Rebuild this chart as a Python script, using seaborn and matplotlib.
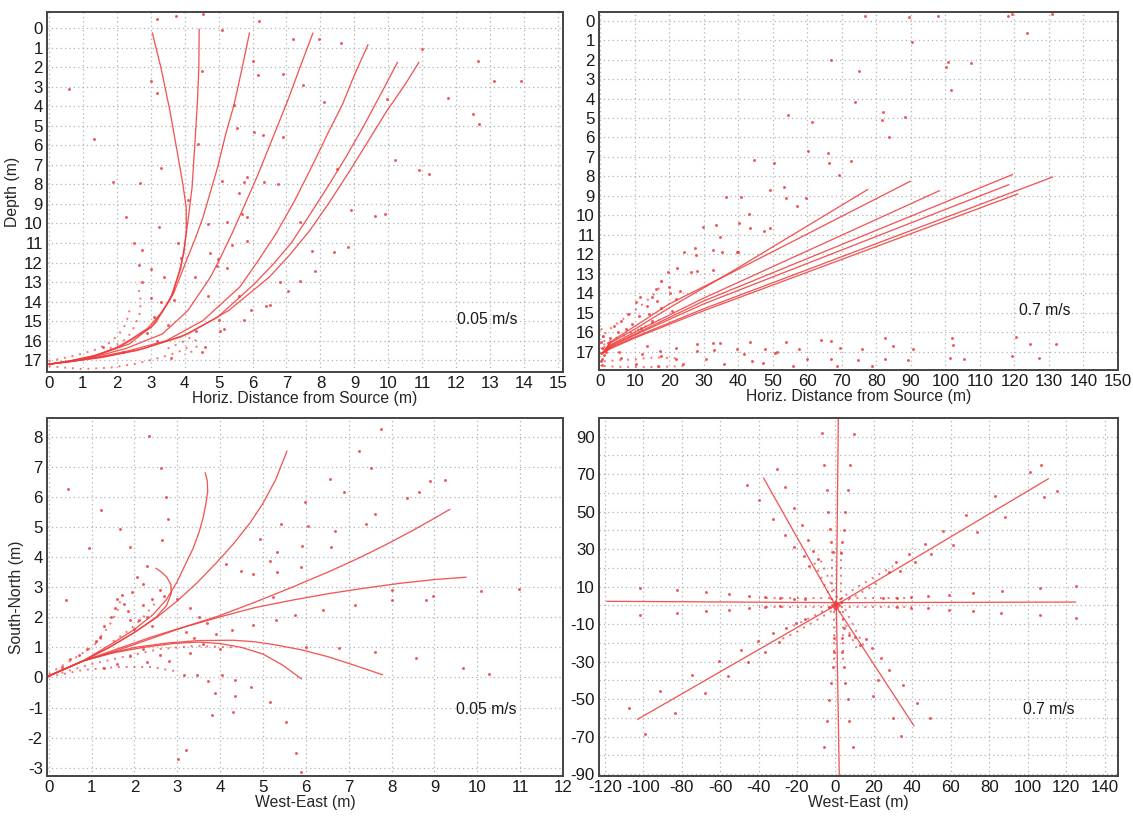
import pandas as pd
import matplotlib.pyplot as plt
import seaborn as sns

# --- panel A: 0.05 m/s, side view (x = horiz distance, y = depth) ---
A_CURVE_X = [
    [3.05, 3.3, 3.57, 3.8, 3.95, 4.05, 4.05, 3.98, 3.85, 3.65, 3.35, 2.92, 2.4, 1.95, 1.2, 0.6, 0.0],
    [4.43, 4.42, 4.38, 4.3, 4.22, 4.12, 4.02, 3.89, 3.57, 3.03, 2.16, 1.3, 0.6, 0.0],
    [5.91, 5.7, 5.46, 5.2, 4.97, 4.75, 4.54, 4.32, 4.1, 3.67, 3.14, 2.38, 1.5, 0.7, 0.0],
    [7.78, 7.4, 7.03, 6.6, 6.16, 5.77, 5.4, 5.07, 4.76, 4.1, 3.35, 2.27, 1.4, 0.7, 0.0],
    [9.4, 9.0, 8.65, 8.2, 7.78, 7.25, 6.7, 6.15, 5.62, 4.54, 3.46, 2.27, 1.4, 0.7, 0.0],
    [10.27, 9.8, 9.3, 8.75, 8.2, 7.65, 7.14, 6.6, 6.05, 4.97, 3.9, 2.6, 1.5, 0.7, 0.0],
    [10.9, 10.45, 9.95, 9.4, 8.86, 8.27, 7.68, 7.1, 6.49, 5.3, 4.1, 2.8, 1.6, 0.7, 0.0],
]
A_CURVE_Y = [
    [0.25, 2.0, 4.25, 6.5, 8.0, 9.2, 10.4, 11.5, 12.4, 13.6, 14.5, 15.35, 15.95, 16.4, 16.85, 17.05, 17.2],
    [0.05, 2.0, 3.74, 6.0, 8.16, 9.6, 10.9, 12.3, 13.9, 15.3, 16.25, 16.8, 17.05, 17.2],
    [0.25, 2.0, 3.9, 5.5, 7.14, 8.45, 9.7, 10.75, 11.7, 13.6, 15.1, 16.16, 16.7, 17.0, 17.2],
    [0.25, 2.0, 3.74, 5.6, 7.5, 9.05, 10.5, 11.7, 12.75, 14.45, 15.65, 16.4, 16.8, 17.05, 17.2],
    [0.85, 2.4, 3.9, 5.45, 6.97, 8.8, 10.5, 11.95, 13.26, 14.97, 16.0, 16.55, 16.85, 17.05, 17.2],
    [1.75, 3.3, 4.93, 6.6, 8.16, 9.65, 11.0, 12.1, 13.1, 14.8, 15.8, 16.5, 16.85, 17.05, 17.2],
    [1.75, 3.0, 4.25, 5.8, 7.31, 8.9, 10.37, 11.6, 12.75, 14.45, 15.65, 16.4, 16.85, 17.05, 17.2],
]
A_TRAIL_X = [
    [0.0, 0.5, 1.0, 1.8, 2.5, 3.1, 3.6, 4.0, 4.2],
    [0.0, 0.8, 1.4, 1.8, 2.05, 2.25, 2.35, 2.4],
    [1.8, 2.3, 2.55, 2.7, 2.7, 2.6],
    [3.5, 3.9, 4.2, 4.4, 4.3, 4.0],
]
A_TRAIL_Y = [
    [17.3, 17.38, 17.45, 17.38, 17.2, 16.95, 16.7, 16.45, 16.15],
    [17.05, 16.75, 16.45, 16.1, 15.7, 15.2, 14.7, 14.2],
    [16.4, 15.9, 15.2, 14.5, 13.7, 13.1],
    [16.4, 16.1, 15.8, 16.1, 16.5, 16.7],
]
A_PTS_X = [3.2, 3.75, 4.55, 6.2, 5.1, 7.2, 7.95, 8.6, 11.0, 12.65, 6.0, 4.5, 6.15, 6.9,
           3.0, 7.5, 0.6, 13.1, 13.9, 3.2, 11.75, 9.97, 8.1, 5.45, 12.5, 12.67, 5.55, 6.05,
           6.3, 6.9, 1.33, 4.4, 3.3, 10.2, 8.5, 10.9, 11.2, 1.9, 2.7, 5.1, 5.85, 5.75, 6.35,
           6.75, 5.6, 4.1, 8.9, 5.7, 5.85, 2.27, 9.6, 9.9, 7.4, 5.25, 4.7, 3.25, 2.5, 3.8,
           5.85, 5.4, 2.75, 4.75, 7.75, 8.4, 8.8, 4.97, 3.9, 2.65, 4.95, 7.85, 3.0, 5.25,
           3.4, 4.3, 6.8, 7.4, 7.05, 6.5, 6.4, 5.6, 4.7, 5.95, 5.75, 5.0, 5.05, 5.15,
           3.2, 2.9, 3.5, 3.1, 3.3, 3.0, 2.75, 3.7, 4.35, 4.6, 4.5, 3.6, 2.2, 1.6]
A_PTS_Y = [-0.48, -0.6, -0.7, -0.35, 0.1, 0.55, 0.55, 0.75, 1.05, 1.7, 1.7, 2.2, 2.4, 2.35,
           2.7, 2.9, 3.1, 2.7, 2.7, 3.35, 3.6, 3.65, 3.8, 3.95, 4.4, 4.9, 5.1, 5.3,
           5.45, 5.6, 5.7, 5.95, 7.15, 6.75, 7.2, 7.25, 7.45, 7.9, 7.95, 7.85, 7.6, 7.9, 7.9,
           8.0, 8.45, 8.8, 9.3, 9.5, 9.65, 9.65, 9.6, 9.5, 9.9, 9.9, 10.05, 10.2, 11.0, 11.0,
           10.9, 11.1, 11.35, 11.5, 11.4, 11.45, 11.2, 11.8, 11.75, 12.1, 12.2, 12.45, 12.35, 12.3,
           12.75, 12.75, 13.0, 12.95, 13.45, 14.15, 14.2, 13.7, 13.7, 14.45, 14.95, 14.95, 15.5, 15.4,
           16.0, 15.6, 15.2, 14.8, 14.0, 13.8, 13.0, 13.9, 15.5, 16.3, 16.6, 16.9, 16.6, 16.3]

# --- panel B: 0.7 m/s, side view ---
B_CURVE_X = [
    [0.5, 3, 10, 20, 38, 77.5],
    [0.5, 3, 10, 20, 38, 89.8],
    [0.5, 3, 10, 30, 98.3],
    [0.5, 3, 10, 30, 119.5],
    [0.5, 3, 10, 30, 118.4],
    [0.5, 3, 10, 30, 131.1],
    [0.5, 3, 10, 30, 121.0],
]
B_CURVE_Y = [
    [17.1, 16.55, 15.85, 14.75, 12.9, 8.67],
    [17.1, 16.5, 15.7, 14.55, 12.95, 8.25],
    [17.1, 16.65, 16.0, 14.25, 8.73],
    [17.1, 16.7, 16.1, 14.4, 7.9],
    [17.1, 16.75, 16.15, 14.55, 8.42],
    [17.1, 16.8, 16.25, 14.8, 8.03],
    [17.1, 16.85, 16.3, 14.9, 8.9],
]
B_TRAIL_X = [
    [0.8, 1.5, 5.3, 9.2, 13.1, 16.5, 18.4],
    [1.0, 3.4, 8.3, 12.1, 17.0],
    [1.0, 5.0, 10.0, 16.0, 22.0],
    [1.0, 8.0, 16.0, 24.0],
    [0.3, 0.8, 1.2],
]
B_TRAIL_Y = [
    [16.9, 16.0, 15.5, 15.0, 14.45, 13.9, 13.2],
    [16.8, 16.35, 16.1, 15.78, 15.37],
    [17.5, 17.45, 17.4, 17.3, 17.35],
    [17.75, 17.8, 17.8, 17.75],
    [15.8, 16.3, 16.7],
]
B_PTS_X = [76.6, 89.4, 97.8, 118.2, 119.3, 126.1, 130.9, 123.5, 90.2, 66.7, 74.8, 100.7,
           100.2, 107.4, 101.6, 73.8, 81.9, 81.5, 88.3, 54.5, 61.3, 83.6, 60.2, 66.1, 66.3,
           72.5, 44.4, 50.2, 69.2, 49.2, 53.3, 53.9, 57.0, 36.4, 40.8, 59.5, 43.0, 40.3,
           43.5, 47.4, 49.1, 29.7, 33.6, 34.6, 35.1, 27.4, 27.7, 24.1, 32.7, 39.6, 40.0,
           22.2, 19.7, 26.3, 28.0, 32.7,
           32.5, 34.8, 27.9, 43.4, 53.9, 64.0, 66.9, 82.5, 101.8, 120.3, 124.5, 132.0,
           102.3, 84.7, 75.9, 69.5, 90.7, 57.7, 51.2, 47.6, 39.6, 33.0, 27.9, 21.9, 17.4,
           13.4, 41.7, 50.7, 59.8, 66.9, 74.6, 82.5, 89.1, 101.3, 105.5, 119.3, 127.2,
           43.8, 47.1, 55.9, 68.5, 78.8, 30.7, 21.9, 24.0, 16.6, 10.3, 35.7, 17.7, 12.2,
           6.0, 5.5,
           17.7, 19.8, 16.1, 14.9, 11.5, 10.3, 13.4, 16.4, 17.7, 14.0, 11.3, 7.9, 6.0, 3.9,
           9.2, 7.3, 5.0, 2.9, 2.1, 11.9, 15.0, 20.3, 23.0, 21.9, 20.8,
           0.3, 0.5, 0.3, 0.6, 0.4, 1.0, 1.5, 0.8, 0.2]
B_PTS_Y = [-0.26, -0.17, -0.26, -0.22, -0.34, -0.48, -0.34, 0.65, 1.11, 2.02, 2.6, 2.14,
           2.4, 2.18, 3.56, 4.2, 4.71, 5.09, 4.97, 4.85, 5.19, 5.95, 6.68, 6.82, 7.32,
           7.21, 7.16, 7.32, 7.92, 8.7, 8.53, 9.13, 9.51, 9.05, 9.08, 9.12, 9.94, 10.4,
           10.64, 10.81, 10.63, 10.61, 10.51, 11.1, 11.86, 11.7, 12.05, 11.86, 11.77, 11.86, 11.88,
           12.73, 12.9, 12.89, 12.85, 12.8,
           16.54, 16.54, 16.59, 16.49, 16.49, 16.42, 16.45, 16.32, 16.28, 16.25, 16.62, 16.59,
           16.68, 16.71, 16.88, 16.8, 16.85, 16.85, 17.02, 16.85, 16.85, 16.92, 16.97, 16.8, 16.97,
           16.71, 17.14, 17.1, 17.4, 17.4, 17.43, 17.36, 17.43, 17.31, 17.4, 17.22, 17.34,
           17.48, 17.57, 17.74, 17.74, 17.74, 17.4, 17.4, 17.65, 17.74, 17.65, 17.65, 17.22, 17.14,
           17.31, 17.05,
           13.37, 13.66, 13.8, 14.22, 14.19, 14.48, 14.65, 14.4, 14.74, 15.08, 15.17, 15.08, 15.42, 15.68,
           15.6, 15.85, 16.02, 16.28, 16.54, 15.77, 15.42, 13.97, 13.88, 14.31, 14.91,
           16.5, 16.8, 17.1, 17.4, 17.7, 17.2, 17.0, 16.2, 17.5]

# --- panel C: 0.05 m/s, plan view ---
C_CURVE_X = [
    [0.0, 0.8, 1.5, 2.0, 2.44, 2.75, 3.0, 3.2, 3.37, 3.5, 3.6, 3.67, 3.71, 3.7, 3.65],
    [0.0, 0.8, 1.42, 2.0, 2.52, 3.0, 3.46, 3.9, 4.31, 4.7, 5.0, 5.3, 5.56],
    [0.0, 0.8, 1.4, 2.0, 2.5, 2.75, 2.86, 2.85, 2.75, 2.62, 2.5],
    [0.0, 0.8, 1.6, 2.4, 3.2, 3.97, 4.8, 5.67, 6.5, 7.0, 7.5, 8.0, 8.5, 9.0, 9.36],
    [0.0, 0.8, 1.6, 2.4, 3.12, 4.0, 4.82, 5.7, 6.52, 7.4, 8.22, 9.0, 9.74],
    [0.0, 0.8, 1.42, 2.0, 2.78, 3.5, 4.3, 4.8, 5.24, 5.9, 6.52, 7.15, 7.79],
    [0.0, 0.8, 1.5, 2.2, 2.9, 3.5, 4.0, 4.5, 5.0, 5.45, 5.9],
]
C_CURVE_Y = [
    [0.05, 0.55, 1.15, 1.6, 2.1, 2.6, 3.2, 3.8, 4.3, 4.8, 5.3, 5.8, 6.2, 6.55, 6.82],
    [0.05, 0.55, 1.0, 1.5, 2.0, 2.55, 3.15, 3.8, 4.45, 5.15, 5.8, 6.6, 7.54],
    [0.05, 0.55, 1.0, 1.5, 2.0, 2.4, 2.8, 3.1, 3.35, 3.52, 3.64],
    [0.05, 0.55, 0.95, 1.35, 1.7, 2.05, 2.5, 3.0, 3.5, 3.82, 4.16, 4.52, 4.9, 5.3, 5.6],
    [0.05, 0.55, 0.9, 1.3, 1.66, 2.02, 2.33, 2.58, 2.79, 2.98, 3.14, 3.26, 3.34],
    [0.05, 0.55, 0.8, 1.0, 1.15, 1.23, 1.24, 1.19, 1.1, 0.92, 0.69, 0.4, 0.09],
    [0.05, 0.55, 0.82, 1.0, 1.13, 1.18, 1.13, 1.0, 0.78, 0.42, -0.05],
]
C_TRAIL_X = [
    [0.0, 0.5, 1.0, 1.3],
    [0.0, 0.8, 1.6, 2.4, 3.0],
    [0.3, 1.0, 1.8, 2.6, 3.4, 4.4],
    [1.1, 1.4, 1.6, 1.7],
    [1.5, 1.9, 2.2, 2.5],
]
C_TRAIL_Y = [
    [0.12, 0.55, 1.0, 1.4],
    [0.02, 0.25, 0.35, 0.35, 0.2],
    [0.15, 0.45, 0.7, 0.95, 1.05, 1.0],
    [1.15, 1.7, 2.2, 2.7],
    [1.2, 1.6, 2.0, 2.5],
]
C_PTS_X = [0.44, 0.4, 1.23, 0.93, 1.67, 1.89, 2.65, 2.74, 2.63, 2.35, 2.78, 7.75, 7.24, 7.53,
           6.56, 6.9, 8.9, 9.24, 8.64, 8.37, 5.99, 7.62, 7.41, 5.41, 6.05, 6.69, 4.94, 5.9,
           6.58, 5.33, 4.14, 5.16, 4.48, 4.77, 5.88, 5.33, 10.08, 10.98, 8.81, 8.96, 8.0, 8.0,
           7.15, 6.39, 5.75, 5.23, 5.3, 4.77, 4.27, 6.01, 6.77, 7.62, 8.56, 9.66, 10.27,
           3.71, 3.88, 4.35, 4.73, 5.16, 3.8, 4.29, 5.54, 3.2, 3.02, 5.77, 5.88, 4.05, 4.35,
           3.46, 3.16,
           1.45, 1.55, 1.6, 1.7, 1.75, 1.85, 1.9, 2.0, 2.1, 2.2, 2.3, 2.4, 1.95, 2.05, 2.3,
           2.2, 2.6, 2.7, 2.4, 1.3, 1.2, 1.1, 0.9, 0.7, 0.5, 0.3,
           3.0, 3.3, 3.5, 3.7, 3.2, 3.4, 3.9, 3.6, 4.0, 3.3, 2.8, 2.3, 2.6, 2.2, 1.9, 1.6, 1.3]
C_PTS_Y = [6.27, 2.59, 5.57, 4.3, 4.94, 4.34, 4.58, 6.02, 6.98, 8.03, 5.27, 8.29, 7.54, 6.98,
           6.6, 6.16, 6.54, 6.56, 6.16, 5.99, 5.83, 5.46, 5.11, 5.11, 5.05, 4.89, 4.61, 4.37,
           4.34, 4.17, 3.78, 3.89, 3.53, 3.46, 3.67, 3.51, 2.88, 2.93, 2.57, 2.71, 2.57, 2.9,
           2.4, 2.24, 2.07, 2.68, 1.93, 1.74, 1.58, 1.02, 0.97, 0.84, 0.64, 0.31, 0.12,
           -0.13, -0.52, -0.61, -0.3, -0.8, -1.24, -1.16, -1.49, -2.4, -2.73, -2.51, -3.15, 0.09, -0.08,
           0.09, 0.09,
           2.0, 2.3, 2.6, 2.75, 2.45, 2.2, 1.9, 1.6, 1.9, 2.4, 2.0, 1.7, 2.85, 3.35, 3.7,
           3.1, 2.9, 2.7, 2.6, 1.7, 1.35, 1.2, 0.95, 0.75, 0.6, 0.35,
           2.6, 2.3, 2.0, 1.8, 1.5, 1.3, 1.45, 1.1, 0.95, 0.8, 0.55, 0.5, 0.75, 0.95, 0.7, 0.45, 0.3]

# --- panel D: 0.7 m/s, plan view ---
D_CURVE_X = [[0.5, 1.5], [0.5, 2.0], [0.0, 125.0], [0.0, -119.0],
             [0.0, 110.8], [0.0, -103.0], [0.0, -37.4], [0.0, 40.9]]
D_CURVE_Y = [[0.0, 100.0], [0.0, -91.0], [1.5, 1.8], [1.5, 2.2],
             [0.0, 67.6], [0.0, -60.8], [0.0, 68.0], [0.0, -64.3]]
D_TRAIL_X = [
    [2, 10, 20, 30], [3, 12, 22], [-2, -10, -20, -30], [-3, -12, -22],
    [-2, -2], [3, 3], [-1, -1], [4, 4],
    [-2, -12], [1, -9], [2, 12], [5, 15],
    [3, 40], [3, 40], [-3, -40], [-3, -40],
]
D_TRAIL_Y = [
    [3, 9, 15, 21], [1, 6, 12], [-3, -8, -14, -19], [-1, -6, -11],
    [3, 30], [3, 30], [-3, -30], [-3, -30],
    [3, 25], [4, 27], [-3, -25], [-2, -22],
    [4, 4], [-1, -1], [4, 4], [-1, -1],
]
D_PTS_X = [-7.2, 9.4, -5.7, 7.5, -4.3, 6.4, -30.6, -26.4, -45.8, -39.8, -21.3, -32.3, -17.5,
           -26.0, -14.3, -21.3, -11.5, -16.6, -9.1, -13.8, -3.8, 5.1, -2.8, 4.5, -2.1, 3.6,
           -1.5, 2.8, 107, 101, 108.5, 115.5, 83, 88, 73.4, 67.7, 56.0, 61, 46.6, 49.8, 41.5,
           38.1, 31.5, 33.8, 27.7,
           106.6, 125.3, 86.6, 71.7, 58.9, 47.9, 39.1, 32.1, 24.9, 106.6, 125.3, 86.2, 71.7,
           58.9, 47.9, 39.1, 32.1,
           -101.5, -82.6, -67.5, -55.3, -44.9, -36.4, -28.9, -21.3, -15.7, -101.5, -82.6,
           -67.5, -55.3, -44.9, -36.4, -28.9,
           -107.2, -99.2, -91.1, -83.6, -74.7, -68.1, -60.4, -55.8, -49.1, -45.3, -40.2, -36.4,
           -32.3, -29.2, -25.5, -20.4, -15.7,
           4.5, 7, 10.2, 12.6, 16, 18.9, 23.6, 27.7, 22.1, 19.8, 30, 34.9, 42.5, 49.4, 34.3,
           8.9, -5.7, -4.3, 7, -3.4, 6.6, -2.1, 5.1, -1.5, 4.2, -0.9, 3.6, -0.6, 3.2,
           0, 1, -1, 1, -1, 2, -2, 0, 0, 3, -3]
D_PTS_Y = [91.8, 91.4, 75.0, 74.7, 61.4, 61.4, 72.9, 63.2, 64.4, 56.0, 52.1, 45.9, 42.9,
           37.6, 35.0, 31.3, 29.2, 26.2, 24.7, 21.2, 49.8, 49.8, 40.6, 40.3, 33.6, 33.6,
           28.3, 27.9, 75, 71, 57.9, 60.9, 58.3, 47.3, 39.4, 48.0, 39.7, 32.5, 32.7, 27.4, 23.0,
           27.4, 23.0, 18.6, 17.7,
           9.2, 10.6, 7.6, 6.8, 5.7, 5.0, 4.5, 4.1, 3.9, -5.2, -6.6, -4.3, -3.1,
           -2.6, -1.4, -1.2, -0.8,
           9.2, 8.0, 7.1, 5.9, 5.0, 4.5, 3.9, 3.6, 3.2, -5.2, -3.8,
           -2.9, -2.2, -1.4, -0.8, -0.3,
           -54.6, -68.7, -45.8, -57.3, -37.0, -46.7, -29.4, -37.9, -23.8, -30.3, -18.8, -24.6,
           -14.9, -19.7, -12.3, -9.6, -7.4,
           -12.3, -15.8, -16.7, -21.1, -17.9, -22.5, -27.8, -34.3, -39.6, -48.4, -59.9, -42.3,
           -52.0, -59.9, -69.6, -75.4, -75.4, -61.7, -61.7, -50.2, -49.9, -41.4, -41.4, -32.6,
           -32.6, -24.6, -24.6, -17.6, -17.6,
           0, 1, 1, -1, -1, 0, 0, 2, -2, 2, -1]

RED = '#ee3b3b'
GRID = '#b2b2b2'
FS = 11.3


def to_frame(xs_list, ys_list):
    rows = []
    for i, (xs, ys) in enumerate(zip(xs_list, ys_list)):
        for x, y in zip(xs, ys):
            rows.append((i, x, y))
    return pd.DataFrame(rows, columns=['curve', 'x', 'y'])


def draw_panel(ax, cx, cy, tx, ty, px, py):
    sns.lineplot(data=to_frame(cx, cy), x='x', y='y', units='curve', estimator=None,
                 sort=False, ax=ax, color=RED, lw=0.95, alpha=0.85, legend=False)
    sns.lineplot(data=to_frame(tx, ty), x='x', y='y', units='curve', estimator=None,
                 sort=False, ax=ax, color=RED, lw=1.4, alpha=0.7, legend=False,
                 linestyle=(0, (1, 3)))
    sns.scatterplot(x=px, y=py, ax=ax, color=RED, s=4.5, linewidth=0, alpha=0.85,
                    legend=False)


def style_axes(ax):
    ax.grid(True, which='both', color=GRID, linestyle=(0, (1, 2.5)), lw=0.9)
    ax.set_axisbelow(True)
    for sp in ax.spines.values():
        sp.set_color('#444444')
        sp.set_linewidth(1.4)
    ax.tick_params(which='both', length=0, pad=3, labelsize=12.2, colors='#1a1a1a')
    ax.set_xlabel('')
    ax.set_ylabel('')


sns.set_theme(style='white')
plt.rcParams['font.family'] = ['Liberation Sans', 'DejaVu Sans']
plt.rcParams['axes.unicode_minus'] = False

fig = plt.figure(figsize=(11.33, 8.18), dpi=100)
W, H = 1133, 818
ax1 = fig.add_axes([47 / W, 1 - 372 / H, 516 / W, 360 / H])
ax2 = fig.add_axes([599 / W, 1 - 370 / H, 519 / W, 358 / H])
ax3 = fig.add_axes([47 / W, 1 - 776 / H, 516 / W, 358 / H])
ax4 = fig.add_axes([599 / W, 1 - 776 / H, 519 / W, 358 / H])

# top left
draw_panel(ax1, A_CURVE_X, A_CURVE_Y, A_TRAIL_X, A_TRAIL_Y, A_PTS_X, A_PTS_Y)
style_axes(ax1)
ax1.set_xlim(-0.05, 15.14)
ax1.set_ylim(17.6, -0.82)
ax1.set_xticks(range(0, 16))
ax1.set_yticks(range(0, 18))
ax1.set_xlabel('Horiz. Distance from Source (m)', fontsize=FS, labelpad=0)
ax1.set_ylabel('Depth (m)', fontsize=FS, labelpad=3)
ax1.text(12.9, 14.9, '0.05 m/s', fontsize=FS, ha='center', va='center', color='#1a1a1a')

# top right
draw_panel(ax2, B_CURVE_X, B_CURVE_Y, B_TRAIL_X, B_TRAIL_Y, B_PTS_X, B_PTS_Y)
style_axes(ax2)
ax2.set_xlim(-0.4, 149.6)
ax2.set_ylim(17.95, -0.45)
ax2.set_xticks(range(0, 151, 10))
ax2.set_yticks(range(0, 18))
ax2.set_xlabel('Horiz. Distance from Source (m)', fontsize=FS, labelpad=0)
ax2.text(128.8, 14.9, '0.7 m/s', fontsize=FS, ha='center', va='center', color='#1a1a1a')

# bottom left
draw_panel(ax3, C_CURVE_X, C_CURVE_Y, C_TRAIL_X, C_TRAIL_Y, C_PTS_X, C_PTS_Y)
style_axes(ax3)
ax3.set_xlim(-0.04, 12.0)
ax3.set_ylim(-3.28, 8.64)
ax3.set_xticks(range(0, 13))
ax3.set_yticks(range(-3, 9))
ax3.set_xlabel('West-East (m)', fontsize=FS, labelpad=0)
ax3.set_ylabel('South-North (m)', fontsize=FS, labelpad=3)
ax3.text(10.2, -1.07, '0.05 m/s', fontsize=FS, ha='center', va='center', color='#1a1a1a')

# bottom right
draw_panel(ax4, D_CURVE_X, D_CURVE_Y, D_TRAIL_X, D_TRAIL_Y, D_PTS_X, D_PTS_Y)
style_axes(ax4)
ax4.set_xlim(-123, 147)
ax4.set_ylim(-91, 100)
ax4.set_xticks(range(-120, 141, 20))
ax4.set_yticks(range(-90, 91, 20))
ax4.set_yticks(range(-80, 100, 20), minor=True)
ax4.set_xlabel('West-East (m)', fontsize=FS, labelpad=0)
ax4.text(110.8, -55.5, '0.7 m/s', fontsize=FS, ha='center', va='center', color='#1a1a1a')

fig.savefig('out.png', dpi=100)
